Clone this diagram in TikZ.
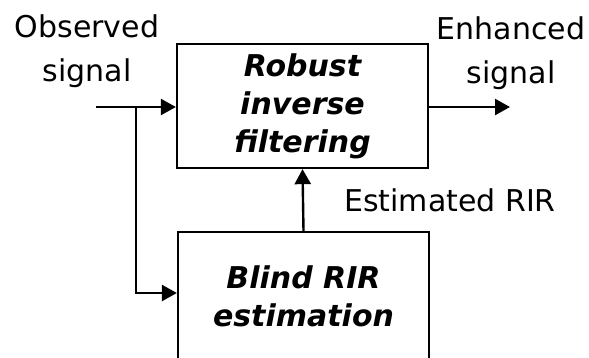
\documentclass[tikz,border=0pt]{standalone}
\usepackage{fontspec}
\setmainfont{DejaVu Sans}
\usetikzlibrary{arrows.meta}
\begin{document}
\begin{tikzpicture}[x=1pt,y=-1pt,
  box/.style={draw,line width=2.3pt,minimum width=251pt,inner sep=0pt,align=center,
    font=\fontsize{30}{38}\selectfont\bfseries\itshape},
  lbl/.style={align=center,inner sep=0pt,font=\fontsize{30}{44}\selectfont},
  arr/.style={line width=2.4pt,-{Triangle[length=15pt,width=16pt]}}]
\useasboundingbox (0,0) rectangle (589,357);
\clip (0,0) rectangle (589,357);
\node[box,minimum height=124pt] (rif) at (302.5,106) {Robust\\inverse\\filtering};
\node[box,minimum height=128pt] (bre) at (303.5,296) {Blind RIR\\estimation};
\coordinate (in) at (96,107);
\coordinate (br) at (136,107);
\coordinate (out) at (510,107);
\node[lbl] (obs) at (87,51) {Observed\\signal};
\node[lbl] (enh) at (511,53) {Enhanced\\signal};
\node[lbl,anchor=base west,font=\fontsize{30}{36}\selectfont] (est) at (344,211) {Estimated RIR};
\draw[arr] (in) -- (in -| rif.west);
\draw[arr] (rif.east |- out) -- (out);
\draw[arr] (br) |- ([yshift=3pt]bre.west);
\draw[arr] (bre.north) -- (rif.south);
\end{tikzpicture}
\end{document}
